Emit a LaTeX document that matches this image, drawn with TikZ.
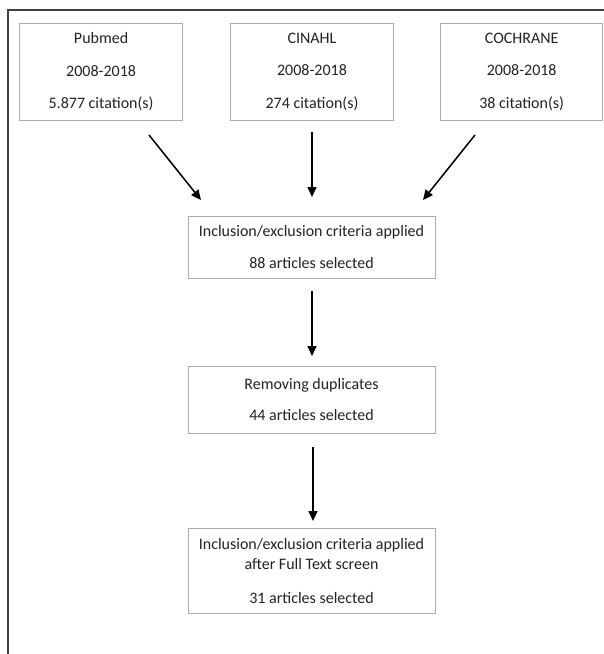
\documentclass[tikz,border=0pt]{standalone}
\usepackage{fontspec}
\setmainfont{Carlito}
\usetikzlibrary{arrows.meta}
\definecolor{framec}{HTML}{404040}
\definecolor{boxc}{HTML}{ABABAB}
\definecolor{txtc}{HTML}{222222}
\tikzset{
  box/.style={draw=boxc, line width=1pt, inner sep=0pt, align=center, text=txtc,
    font=\fontsize{16}{20}\selectfont},
  arr/.style={line width=1.5pt, -{Triangle[length=10pt,width=9pt]}}
}
\begin{document}
\begin{tikzpicture}[x=1pt,y=-1pt]
\useasboundingbox (0,0) rectangle (604,654);
\draw[framec, line width=2pt] (604,9.5) -- (7.5,9.5) -- (7.5,654);
\node[box, minimum width=163pt, minimum height=96.5pt] (pub) at (101.1,71.75)
  {Pubmed\\[12.5pt]2008-2018\\[12.5pt]5.877 citation(s)};
\node[box, minimum width=163pt, minimum height=96.5pt] (cin) at (312,71.75)
  {CINAHL\\[12.5pt]2008-2018\\[12.5pt]274 citation(s)};
\node[box, minimum width=162pt, minimum height=96.5pt] (coc) at (521.7,71.75)
  {COCHRANE\\[12.5pt]2008-2018\\[12.5pt]38 citation(s)};
\node[box, minimum width=247pt, minimum height=62pt] (inc) at (311.5,247)
  {Inclusion/exclusion criteria applied\\[12pt]88 articles selected};
\node[box, minimum width=247pt, minimum height=67pt] (dup) at (311.5,399.5)
  {Removing duplicates\\[11pt]44 articles selected};
\node[box, minimum width=247pt, minimum height=85pt] (full) at (311.5,570.5)
  {Inclusion/exclusion criteria applied\\after Full Text screen\\[14pt]31 articles selected};
\coordinate (a1s) at (149,135);
\coordinate (a1e) at (201,200);
\coordinate (a2s) at (312,132);
\coordinate (a2e) at (312,197);
\coordinate (a3s) at (475,135);
\coordinate (a3e) at (423,200);
\coordinate (a4s) at (312,291);
\coordinate (a4e) at (312,356);
\coordinate (a5s) at (313,447);
\coordinate (a5e) at (313,521);
\draw[arr] (a1s) -- (a1e);
\draw[arr] (a2s) -- (a2e);
\draw[arr] (a3s) -- (a3e);
\draw[arr] (a4s) -- (a4e);
\draw[arr] (a5s) -- (a5e);
\end{tikzpicture}
\end{document}
